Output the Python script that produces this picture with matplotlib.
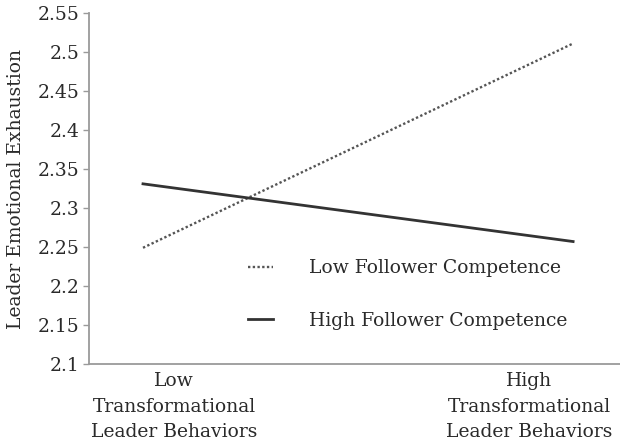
import matplotlib.pyplot as plt

# data
x_pos = [0, 1]
low_comp = [2.249, 2.511]
high_comp = [2.331, 2.257]
x_labels = ["Low\nTransformational\nLeader Behaviors", "High\nTransformational\nLeader Behaviors"]
y_ticks = [2.1, 2.15, 2.2, 2.25, 2.3, 2.35, 2.4, 2.45, 2.5, 2.55]
y_tick_labels = ["2.1", "2.15", "2.2", "2.25", "2.3", "2.35", "2.4", "2.45", "2.5", "2.55"]

plt.rcParams['font.family'] = 'DejaVu Serif'
txt = '#2a2a2a'
fs = 13.5

fig = plt.figure(figsize=(6.2, 4.42), dpi=100)
ax = fig.add_axes([0.1435, 0.1765, 0.8565, 0.794])

ax.plot(x_pos, low_comp, linestyle=(0, (1, 1)), color='#555555', linewidth=1.7,
        label="Low Follower Competence")
ax.plot(x_pos, high_comp, linestyle='-', color='#333333', linewidth=2.0,
        label="High Follower Competence")

ax.set_xlim(-0.1256, 1.109)
ax.set_ylim(2.1, 2.55)
ax.set_yticks(y_ticks)
ax.set_yticklabels(y_tick_labels)
ax.set_xticks([0.072, 0.898])
ax.set_xticklabels(x_labels, linespacing=1.52)

for s in ['top', 'right']:
    ax.spines[s].set_visible(False)
for s in ['left', 'bottom']:
    ax.spines[s].set_color('#9a9a9a')
    ax.spines[s].set_linewidth(1.3)

ax.tick_params(axis='y', direction='out', length=4, width=1, color='#9a9a9a',
               labelsize=fs, labelcolor=txt, pad=3)
ax.tick_params(axis='x', length=0, labelsize=fs, labelcolor=txt, pad=6)

ax.set_ylabel("Leader Emotional Exhaustion", fontsize=fs, color=txt, labelpad=9)

ax.legend(loc='upper left', bbox_to_anchor=(0.30, 0.298), frameon=False,
          fontsize=fs, handlelength=1.33, handletextpad=1.9, labelspacing=1.82,
          borderpad=0, borderaxespad=0, labelcolor=txt)

fig.savefig("out.png", dpi=100)
